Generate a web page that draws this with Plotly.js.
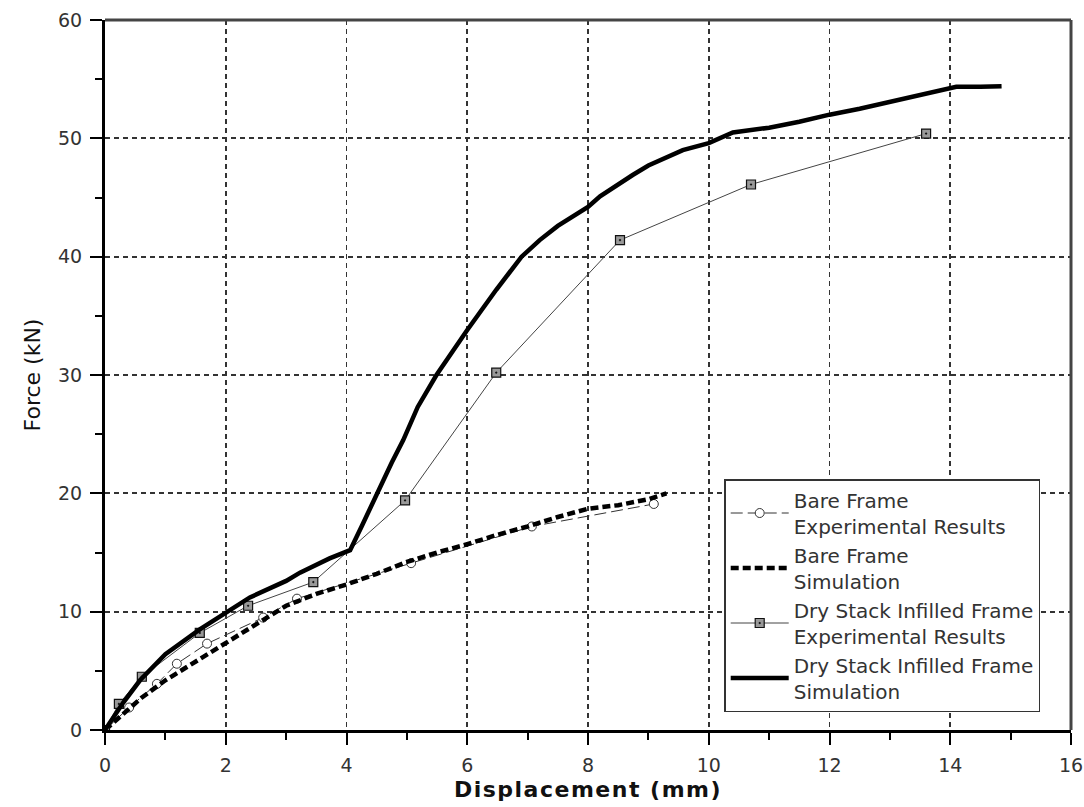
<!DOCTYPE html>
<html>
<head>
<meta charset="utf-8">
<script src="https://cdn.plot.ly/plotly-3.0.1.min.js"></script>
<style>
html,body{margin:0;padding:0;background:#fff;}
#chart{width:1084px;height:807px;}
#chart .g-xtitle text{letter-spacing:1.5px;}
</style>
</head>
<body>
<div id="chart"></div>
<script>
// Bare Frame - Experimental Results
const bareExpX = [0, 0.4, 0.86, 1.19, 1.69, 2.62, 3.18, 5.07, 7.07, 9.09];
const bareExpY = [0, 1.9, 3.9, 5.6, 7.3, 9.5, 11.1, 14.1, 17.2, 19.1];

// Bare Frame - Simulation
const bareSimX = [0, 0.3, 0.6, 1.0, 1.5, 2.0, 2.5, 3.0, 3.5, 4.0, 4.5, 5.0, 5.5, 6.0, 6.5, 7.0, 7.5, 8.0, 8.5, 9.0, 9.3];
const bareSimY = [0, 1.3, 2.7, 4.2, 5.8, 7.4, 9.0, 10.5, 11.5, 12.3, 13.2, 14.2, 15.0, 15.7, 16.5, 17.2, 18.0, 18.7, 19.0, 19.5, 20.0];

// Dry Stack Infilled Frame - Experimental Results
const dryExpX = [0, 0.23, 0.61, 1.57, 2.37, 3.45, 4.97, 6.48, 8.53, 10.7, 13.6];
const dryExpY = [0, 2.2, 4.5, 8.2, 10.5, 12.5, 19.4, 30.2, 41.4, 46.1, 50.4];

// Dry Stack Infilled Frame - Simulation
const drySimX = [0, 0.3, 0.58, 1.0, 1.57, 2.0, 2.4, 3.0, 3.23, 3.72, 4.06, 4.25, 4.5, 4.75, 4.94, 5.18, 5.49, 5.75, 6.0, 6.48, 6.9, 7.2, 7.5, 8.0, 8.2, 8.74, 9.0, 9.57, 10.0, 10.4, 11.0, 11.5, 12.0, 12.5, 13.16, 13.5, 13.9, 14.1, 14.5, 14.85];
const drySimY = [0, 2.3, 4.2, 6.4, 8.5, 9.9, 11.2, 12.6, 13.3, 14.5, 15.2, 17.2, 20.0, 22.6, 24.5, 27.3, 30.0, 32.0, 33.8, 37.2, 40.0, 41.4, 42.6, 44.2, 45.1, 46.9, 47.7, 49.0, 49.6, 50.5, 50.9, 51.4, 52.0, 52.5, 53.25, 53.6, 54.1, 54.35, 54.35, 54.4];

const xTicks = [0, 2, 4, 6, 8, 10, 12, 14, 16];
const yTicks = [0, 10, 20, 30, 40, 50, 60];

const FONT = '"DejaVu Sans", "Liberation Sans", Arial, sans-serif';

const traces = [
  {
    x: bareExpX, y: bareExpY, name: 'Bare Frame<br>Experimental Results',
    mode: 'lines+markers', type: 'scatter',
    line: {color: '#333', width: 1, dash: '12px,5px'},
    marker: {symbol: 'circle', size: 9, color: '#fff', line: {color: '#333', width: 1}}
  },
  {
    x: bareSimX, y: bareSimY, name: 'Bare Frame<br>Simulation',
    mode: 'lines', type: 'scatter',
    line: {color: '#000', width: 4.5, dash: '8px,4px'}
  },
  {
    x: dryExpX, y: dryExpY, name: 'Dry Stack Infilled Frame<br>Experimental Results',
    mode: 'lines+markers', type: 'scatter',
    line: {color: '#444', width: 1},
    marker: {symbol: 'square-dot', size: 9, color: '#999', line: {color: '#111', width: 1.2}}
  },
  {
    x: drySimX, y: drySimY, name: 'Dry Stack Infilled Frame<br>Simulation',
    mode: 'lines', type: 'scatter',
    line: {color: '#000', width: 4.5}
  }
];

const layout = {
  width: 1084, height: 807,
  margin: {l: 105, r: 13, t: 20, b: 77},
  paper_bgcolor: '#fff', plot_bgcolor: '#fff',
  font: {family: FONT, color: '#333', size: 17},
  showlegend: true,
  legend: {
    x: 0.641, y: 0.3535, xanchor: 'left', yanchor: 'top',
    bgcolor: '#fff', bordercolor: '#333', borderwidth: 1.5,
    font: {size: 20, color: '#333', family: FONT},
    tracegroupgap: 0, itemwidth: 58
  },
  xaxis: {
    range: [0, 16], tickvals: xTicks, ticktext: xTicks.map(String),
    ticks: 'outside', ticklen: 12, tickwidth: 2, tickcolor: '#000',
    showline: true, linecolor: '#000', linewidth: 3,
    showgrid: true, gridcolor: '#333', gridwidth: 1.8, griddash: '5px,4px',
    zeroline: false, ticklabelstandoff: 4,
    minor: {dtick: 1, tick0: 0, ticks: 'outside', ticklen: 7, tickwidth: 2, tickcolor: '#000', showgrid: false},
    tickfont: {size: 19, color: '#333', family: FONT},
    title: {text: 'Displacement (mm)', font: {size: 22, color: '#111', family: FONT, weight: 'bold'}, standoff: 7}
  },
  yaxis: {
    range: [0, 60], tickvals: yTicks, ticktext: yTicks.map(String),
    ticks: 'outside', ticklen: 12, tickwidth: 2, tickcolor: '#000',
    showline: true, linecolor: '#000', linewidth: 3,
    showgrid: true, gridcolor: '#333', gridwidth: 1.8, griddash: '5px,4px',
    zeroline: false, ticklabelstandoff: 4,
    minor: {dtick: 5, tick0: 0, ticks: 'outside', ticklen: 7, tickwidth: 2, tickcolor: '#000', showgrid: false},
    tickfont: {size: 19, color: '#333', family: FONT},
    title: {text: 'Force (kN)', font: {size: 22, color: '#111', family: FONT}, standoff: 12}
  },
  shapes: [
    {type: 'line', xref: 'paper', yref: 'paper', x0: 0, x1: 1, y0: 1, y1: 1, line: {color: '#444', width: 3}},
    {type: 'line', xref: 'paper', yref: 'paper', x0: 1, x1: 1, y0: 0, y1: 1, line: {color: '#444', width: 3}}
  ]
};

Plotly.newPlot('chart', traces, layout, {displayModeBar: false, staticPlot: true});
</script>
</body>
</html>
